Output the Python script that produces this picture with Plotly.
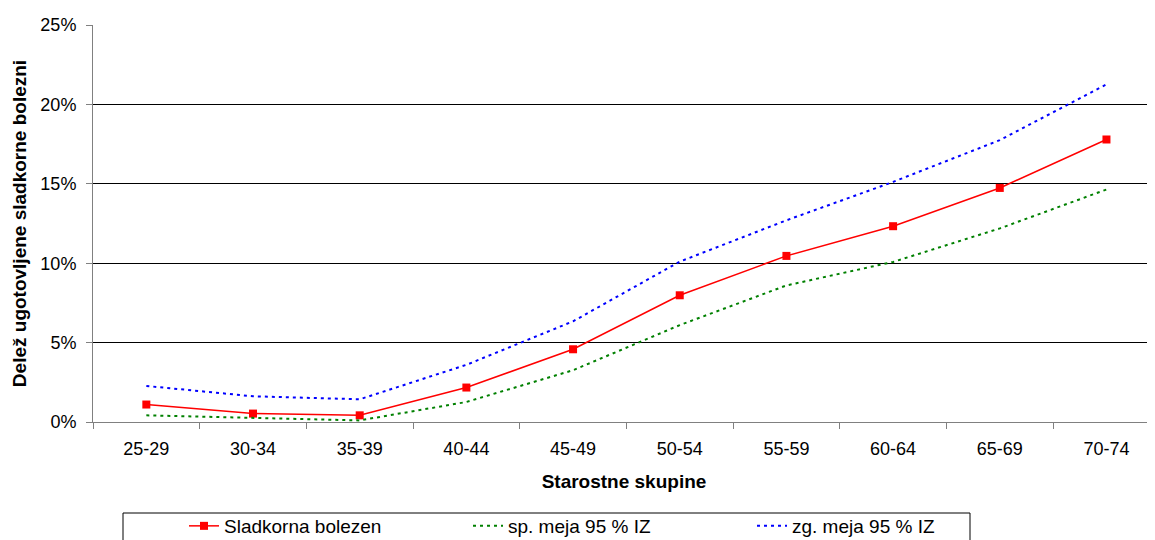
import plotly.graph_objects as go

categories = ["25-29", "30-34", "35-39", "40-44", "45-49", "50-54", "55-59", "60-64", "65-69", "70-74"]
sladkorna = [1.10, 0.53, 0.42, 2.17, 4.58, 7.98, 10.46, 12.33, 14.74, 17.79]
spodnja = [0.42, 0.25, 0.10, 1.26, 3.26, 6.10, 8.60, 10.08, 12.19, 14.64]
zgornja = [2.27, 1.62, 1.43, 3.60, 6.34, 10.10, 12.70, 15.12, 17.75, 21.26]
y_ticks = [0, 5, 10, 15, 20, 25]
y_labels = ["0%", "5%", "10%", "15%", "20%", "25%"]

FONT = "Liberation Sans, Arial, sans-serif"

fig = go.Figure()
fig.add_trace(go.Scatter(
    x=categories, y=sladkorna, name="Sladkorna bolezen", mode="lines+markers",
    line=dict(color="#ff0000", width=1.5),
    marker=dict(symbol="square", size=8, color="#ff0000"),
))
fig.add_trace(go.Scatter(
    x=categories, y=spodnja, name="sp. meja 95 % IZ", mode="lines",
    line=dict(color="#008000", width=2, dash="3px,4px"),
))
fig.add_trace(go.Scatter(
    x=categories, y=zgornja, name="zg. meja 95 % IZ", mode="lines",
    line=dict(color="#0000ff", width=2, dash="3px,4px"),
))

# page body adds an 8px offset; figure coordinates below are screen - 8
W, H = 1147, 532
L, R, T, B = 85, 0, 17, 118
pw = W - L - R
ph = H - T - B

def px_x(x):
    return (x - L) / pw

def px_y(y):
    return (H - B - y) / ph

fig.add_shape(type="rect", xref="paper", yref="paper",
              x0=px_x(115), x1=px_x(962), y0=px_y(505), y1=px_y(560),
              line=dict(color="#000000", width=1), fillcolor="rgba(0,0,0,0)")

fig.update_layout(
    width=W, height=H,
    margin=dict(l=L, r=R, t=T, b=B, pad=0, autoexpand=False),
    paper_bgcolor="white", plot_bgcolor="white",
    font=dict(family=FONT, size=18, color="#000000"),
    showlegend=True,
    legend=dict(
        orientation="h", x=px_x(176), xanchor="left", y=px_y(499), yanchor="top",
        font=dict(family=FONT, size=19, color="#000000"),
        bgcolor="rgba(0,0,0,0)", borderwidth=0,
        entrywidth=239, entrywidthmode="pixels", itemwidth=30,
    ),
    xaxis=dict(
        type="category", range=[-0.5, 9.455], automargin=False,
        showgrid=False, showline=True, linecolor="#808080", linewidth=1,
        ticks="outside", ticklen=6, tickcolor="#808080", tickson="boundaries",
        ticklabelstandoff=10,
        tickfont=dict(family=FONT, size=18, color="#000000"),
        title=dict(text="<b>Starostne skupine</b>", font=dict(family=FONT, size=19, color="#000000"), standoff=17),
        zeroline=False,
    ),
    yaxis=dict(
        range=[0, 25], tickvals=y_ticks, ticktext=y_labels, automargin=False,
        showgrid=True, gridcolor="#000000", gridwidth=1,
        showline=True, linecolor="#808080", linewidth=1,
        ticks="outside", ticklen=6, tickcolor="#808080",
        ticklabelstandoff=6,
        tickfont=dict(family=FONT, size=18, color="#000000"),
        title=dict(text="<b>Delež ugotovljene sladkorne bolezni</b>", font=dict(family=FONT, size=19, color="#000000"), standoff=8),
        zeroline=False,
    ),
)

fig.write_html("out.html")
